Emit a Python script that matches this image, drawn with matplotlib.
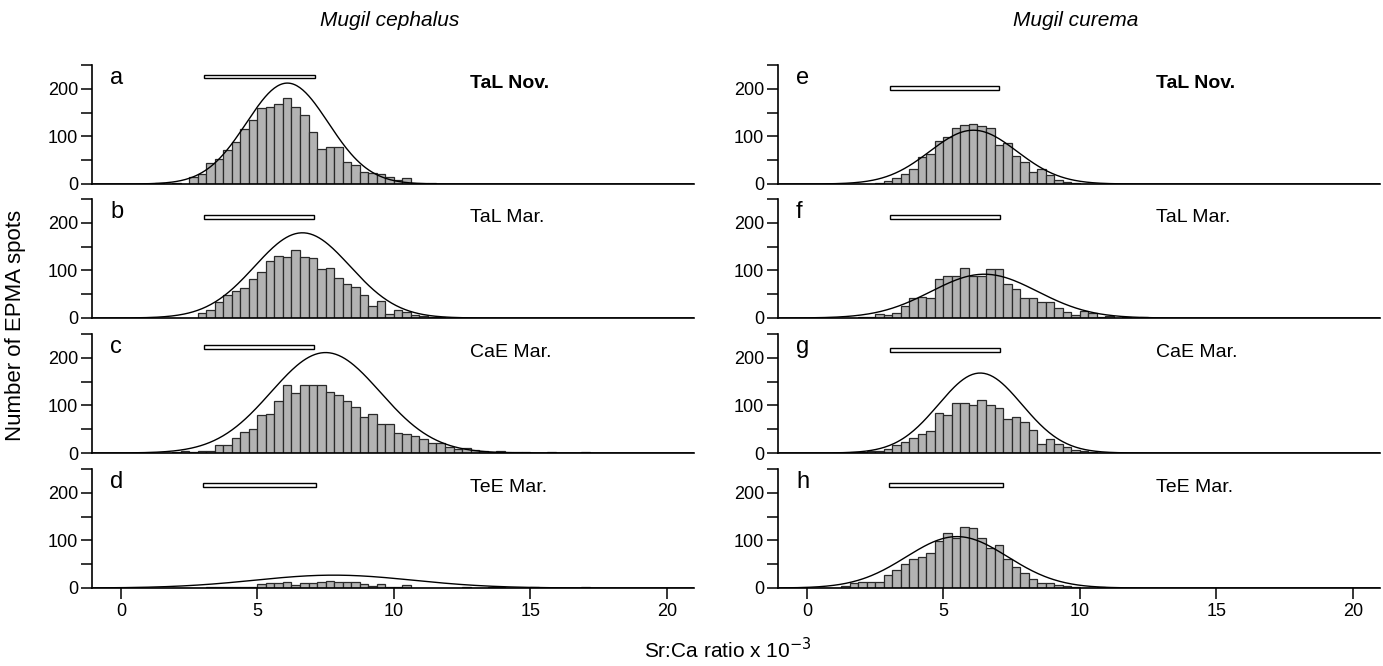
import numpy as np
import matplotlib
matplotlib.use('Agg')
import matplotlib.pyplot as plt
from matplotlib.patches import Rectangle

plt.rcParams['font.family'] = ['Liberation Sans', 'DejaVu Sans']
narrow = ['Liberation Sans Narrow', 'Liberation Sans', 'DejaVu Sans']

# histogram bins are 0.3125 wide, each series starts at bin index k0
bin_w = 0.3125

counts = {
    'a': (3, [1, 2, 0, 3, 0, 14, 22, 45, 52, 72, 89, 115, 135, 159, 161, 169, 180, 161, 144, 110,
              74, 77, 77, 47, 39, 26, 24, 22, 14, 8, 12, 3, 3, 2, 1]),
    'b': (6, [1, 1, 1, 10, 16, 33, 48, 56, 63, 81, 97, 119, 131, 129, 142, 129, 126, 102, 104, 84,
              72, 66, 48, 25, 36, 8, 16, 13, 6, 4, 2, 2]),
    'c': (4, [1, 1, 2, 5, 3, 5, 5, 16, 16, 32, 44, 50, 79, 82, 110, 142, 126, 142, 142, 142,
              128, 122, 110, 96, 75, 81, 61, 61, 41, 39, 36, 29, 22, 20, 13, 8, 11, 6, 5, 3,
              4, 2, 3, 2, 1, 0, 2, 0, 1, 0, 2]),
    'd': (6, [1, 1, 1, 1, 2, 3, 2, 2, 2, 3, 8, 10, 10, 13, 7, 10, 10, 12, 15, 12,
              12, 12, 9, 4, 8, 3, 2, 6, 1, 1, 0, 0, 0, 1, 2, 1, 1, 2, 2, 1,
              1, 0, 3, 0, 0, 0, 0, 0, 3]),
    'e': (6, [1, 1, 3, 7, 13, 22, 32, 56, 63, 91, 98, 117, 124, 126, 121, 117, 81, 86, 58, 46,
              26, 31, 18, 8, 4, 3, 1]),
    'f': (6, [2, 3, 8, 6, 10, 26, 41, 44, 43, 81, 89, 89, 105, 89, 89, 102, 102, 71, 60, 43,
              43, 34, 34, 20, 13, 6, 14, 11, 3, 5, 1, 2, 0, 2]),
    'g': (5, [2, 3, 5, 5, 8, 16, 24, 32, 39, 47, 84, 80, 104, 104, 101, 112, 100, 94, 72, 75,
              66, 49, 18, 29, 18, 13, 6, 5, 3, 1]),
    'h': (-1, [1, 1, 1, 1, 1, 4, 10, 13, 13, 12, 27, 37, 51, 60, 66, 74, 98, 115, 105, 129,
               126, 104, 84, 90, 60, 44, 32, 18, 11, 10, 7, 4, 2, 0, 0, 3, 1]),
}

# fitted normal curves: mean, sd, peak height
fits = {
    'a': (6.1, 1.5, 212), 'b': (6.65, 1.75, 179), 'c': (7.5, 2.0, 211), 'd': (7.8, 2.9, 27),
    'e': (6.1, 1.6, 113), 'f': (6.5, 1.95, 92), 'g': (6.35, 1.53, 168), 'h': (5.5, 1.86, 108),
}

# open bar above each histogram: start, end, level
ranges = {
    'a': (3.05, 7.1, 226), 'b': (3.05, 7.07, 213), 'c': (3.05, 7.07, 223), 'd': (3.0, 7.15, 216),
    'e': (3.05, 7.05, 201), 'f': (3.06, 7.07, 213), 'g': (3.06, 7.07, 216), 'h': (3.0, 7.2, 216),
}

sites = ['TaL Nov.', 'TaL Mar.', 'CaE Mar.', 'TeE Mar.']
columns = [['a', 'b', 'c', 'd'], ['e', 'f', 'g', 'h']]
species = ['Mugil cephalus', 'Mugil curema']

W, H = 1383, 666
fig = plt.figure(figsize=(W / 100, H / 100), dpi=100)

lefts = [92, 778]
bottoms = [184, 318, 453, 588]
ax_w = 602
ax_h = 119

x_curve = np.linspace(-1, 21, 400)

for c, col in enumerate(columns):
    for r, key in enumerate(col):
        ax = fig.add_axes([lefts[c] / W, 1 - bottoms[r] / H, ax_w / W, ax_h / H])
        k0, vals = counts[key]
        edges = (k0 + np.arange(len(vals))) * bin_w
        ax.bar(edges, vals, width=bin_w, align='edge', color='#b3b3b3',
               edgecolor='#2a2a2a', linewidth=0.9, zorder=2)
        mu, sd, pk = fits[key]
        ax.plot(x_curve, pk * np.exp(-0.5 * ((x_curve - mu) / sd) ** 2), color='black', lw=1, zorder=3)
        x0, x1, yl = ranges[key]
        ax.add_patch(Rectangle((x0, yl - 4), x1 - x0, 8, facecolor='white',
                               edgecolor='black', lw=1, zorder=4))
        ax.text(-0.4, 222, key, fontsize=17, ha='left', va='center')
        ax.text(12.8, 212, sites[r], fontsize=14, ha='left', va='center',
                fontweight='bold' if r == 0 else 'normal')

        ax.set_xlim(-1.06, 21.0)
        ax.set_ylim(0, 250)
        ax.set_yticks([0, 100, 200])
        ax.set_yticks([50, 150, 250], minor=True)
        ax.spines['top'].set_visible(False)
        ax.spines['right'].set_visible(False)
        for s in ['left', 'bottom']:
            ax.spines[s].set_linewidth(1.2)
        ax.tick_params(axis='y', which='both', length=8, width=1.1, labelsize=13, pad=2)
        ax.set_xticks([0, 5, 10, 15, 20])
        if r == 3:
            ax.tick_params(axis='x', length=8, width=1.1, labelsize=13, pad=3)
        else:
            ax.tick_params(axis='x', bottom=False, labelbottom=False)
        for lab in ax.get_xticklabels() + ax.get_yticklabels():
            lab.set_family(narrow)

    fig.text((lefts[c] + 298) / W, 1 - 20 / H, species[c], fontsize=15, style='italic',
             ha='center', va='center', family=narrow)

fig.text(16 / W, 1 - 325 / H, 'Number of EPMA spots', fontsize=16, rotation=90,
         ha='center', va='center', family=narrow)
fig.text(728 / W, 1 - 650 / H, r'Sr:Ca ratio x 10$^{-3}$', fontsize=15, ha='center', va='center',
         family=narrow)

fig.savefig('out.png', dpi=100)
